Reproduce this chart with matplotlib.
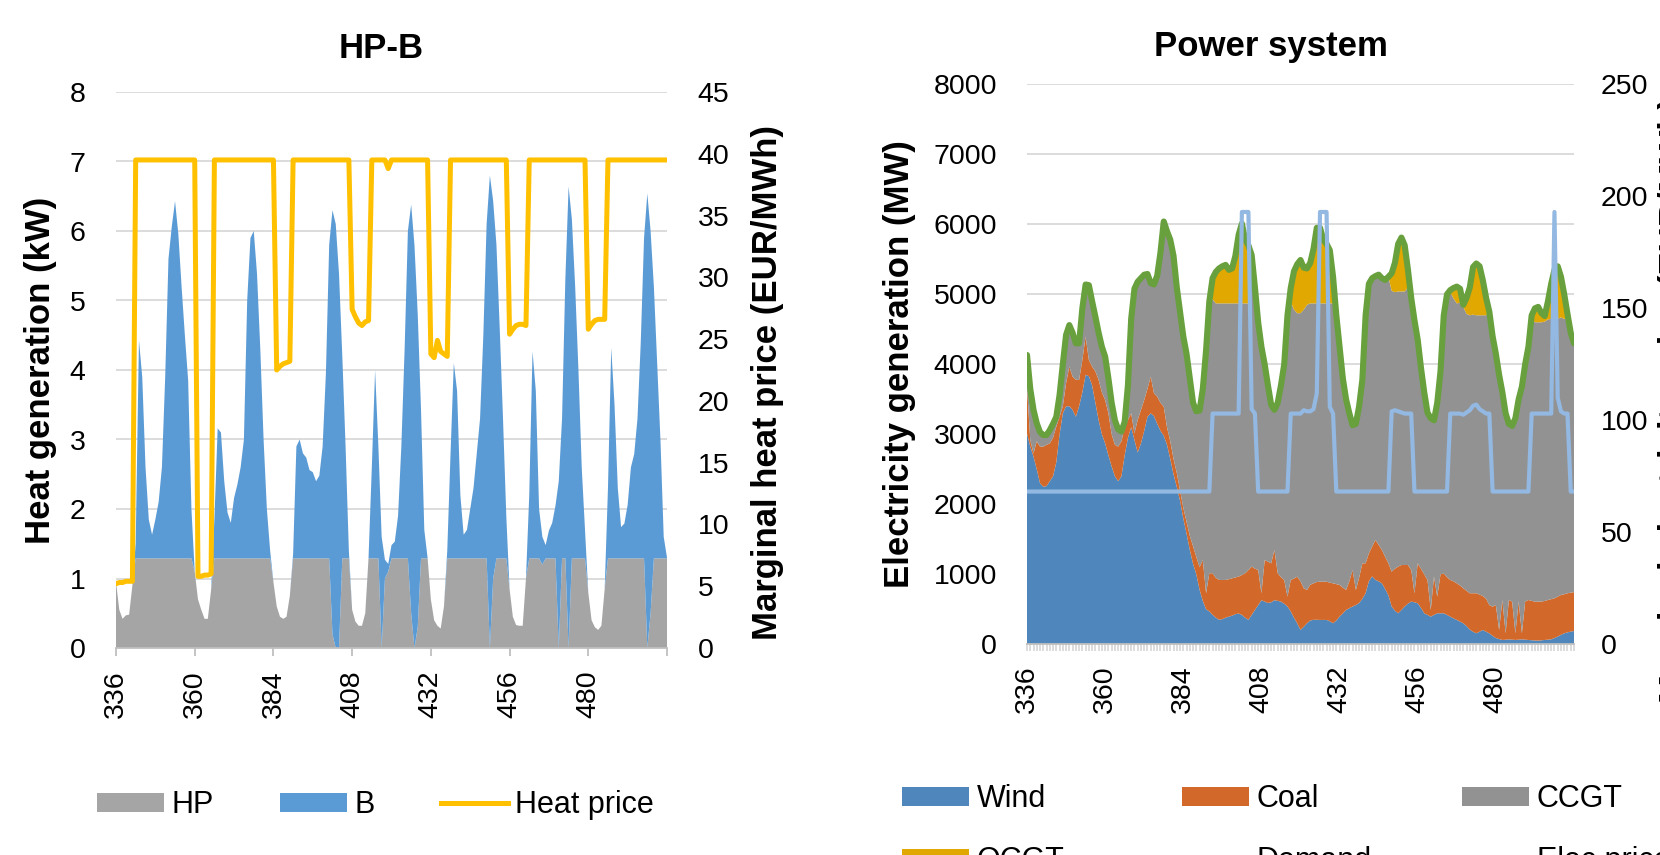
import matplotlib
matplotlib.use("Agg")
import matplotlib.pyplot as plt
from matplotlib.patches import Patch
from matplotlib.lines import Line2D

plt.rcParams['font.family'] = ['Liberation Sans', 'DejaVu Sans']

# ---------------- data ----------------
hours = list(range(336, 505))
xtick_vals = [336, 360, 384, 408, 432, 456, 480, 504]
xtick_labels = ['336', '360', '384', '408', '432', '456', '480', '']

# HP-B chart (kW)
hp = [
    0.95, 0.55, 0.42, 0.47, 0.48, 0.9, 1.29, 1.29, 1.29, 1.29, 1.29, 1.29, 1.29, 1.29, 1.29, 1.29, 1.29, 1.29, 1.29, 1.29, 1.29, 1.29, 1.29, 1.29,
    1.1, 0.7, 0.55, 0.42, 0.42, 0.84, 1.29, 1.29, 1.29, 1.29, 1.29, 1.29, 1.29, 1.29, 1.29, 1.29, 1.29, 1.29, 1.29, 1.29, 1.29, 1.29, 1.29, 1.29,
    0.95, 0.6, 0.45, 0.42, 0.45, 0.75, 1.29, 1.29, 1.29, 1.29, 1.29, 1.29, 1.29, 1.29, 1.29, 1.29, 1.29, 1.29, 0.2, 0.0, 0.0, 1.29, 1.29, 1.29,
    0.55, 0.38, 0.32, 0.32, 0.5, 1.29, 1.29, 1.29, 1.29, 0.0, 1.0, 1.1, 1.29, 1.29, 1.29, 1.29, 1.29, 1.29, 0.5, 0.0, 0.3, 1.29, 1.29, 1.29,
    0.7, 0.4, 0.32, 0.28, 0.6, 1.29, 1.29, 1.29, 1.29, 1.29, 1.29, 1.29, 1.29, 1.29, 1.29, 1.29, 1.29, 1.29, 0.0, 1.0, 1.29, 1.29, 1.29, 1.29,
    0.85, 0.45, 0.33, 0.32, 0.32, 1.0, 1.29, 1.29, 1.29, 1.29, 1.2, 1.29, 1.29, 1.29, 1.29, 0.0, 1.29, 1.29, 0.0, 1.29, 1.29, 1.29, 1.29, 1.29,
    0.8, 0.4, 0.3, 0.26, 0.32, 0.85, 1.29, 1.29, 1.29, 1.29, 1.29, 1.29, 1.29, 1.29, 1.29, 1.29, 1.29, 1.29, 0.0, 0.5, 1.29, 1.29, 1.29, 1.29,
    1.29,
]
boiler = [
    0, 0, 0, 0, 0, 0, 0.21, 3.14, 2.61, 1.31, 0.56, 0.34, 0.56, 0.81, 1.31, 2.61, 4.31, 4.77, 5.14, 4.67, 3.91, 3.21, 2.56, 0.71,
    0, 0, 0, 0, 0, 0, 0.56, 1.87, 1.81, 1.11, 0.66, 0.51, 0.87, 1.06, 1.31, 1.71, 3.71, 4.61, 4.71, 4.09, 3.01, 1.71, 0.71, 0.11,
    0, 0, 0, 0, 0, 0, 0.06, 1.61, 1.71, 1.51, 1.45, 1.27, 1.24, 1.11, 1.19, 1.61, 2.66, 4.51, 6.1, 6.1, 5.38, 2.91, 1.61, 0.11,
    0, 0, 0, 0, 0, 0.01, 1.31, 2.71, 1.61, 1.6, 0.27, 0.11, 0.19, 0.24, 0.61, 1.61, 3.01, 4.71, 5.88, 5.8, 4.5, 2.14, 0.41, 0.01,
    0, 0, 0, 0, 0, 0.11, 1.51, 2.81, 2.41, 0.91, 0.34, 0.41, 0.71, 1.01, 1.51, 2.01, 3.21, 4.81, 6.8, 5.43, 4.51, 3.31, 2.01, 0.61,
    0, 0, 0, 0, 0, 0, 0.91, 2.98, 2.41, 0.71, 0.4, 0.19, 0.4, 0.51, 0.76, 2.4, 2.01, 4.01, 6.64, 4.88, 3.91, 2.71, 1.31, 0.41,
    0, 0, 0, 0, 0, 0, 1.01, 3.03, 2.21, 1.01, 0.45, 0.5, 0.77, 1.31, 1.5, 2.01, 3.11, 4.61, 6.54, 5.5, 3.91, 2.81, 1.71, 0.31,
    0.01,
]
heat_price = (
    [5.2, 5.3, 5.3, 5.4, 5.4, 5.4] + [39.5] * 18
    + [39.5, 5.8, 5.8, 5.9, 5.9, 6.0] + [39.5] * 18
    + [39.5, 22.5, 22.8, 23.0, 23.1, 23.2] + [39.5] * 18
    + [27.4, 26.8, 26.3, 26.1, 26.4, 26.5] + [39.5] * 5 + [38.8] + [39.5] * 12
    + [23.8, 23.5, 24.9, 24.0, 23.8, 23.6] + [39.5] * 18
    + [25.4, 25.8, 26.1, 26.2, 26.2, 26.1] + [39.5] * 18
    + [25.8, 26.2, 26.5, 26.6, 26.6, 26.6] + [39.5] * 18
    + [39.5]
)

# Power system chart (MW)
wind = [
    3014, 2824, 2681, 2500, 2300, 2250, 2260, 2330, 2400, 2600, 3000, 3300, 3400, 3400, 3350, 3250, 3400, 3600, 3850, 3830, 3700, 3450, 3200, 3000,
    2870, 2700, 2540, 2400, 2330, 2400, 2700, 2950, 3100, 2920, 2740, 2870, 3050, 3250, 3300, 3260, 3150, 3050, 2980, 2850, 2650, 2430, 2250, 2050,
    1800, 1580, 1350, 1150, 1000, 780, 620, 500, 470, 420, 380, 350, 360, 380, 395, 410, 430, 440, 420, 380, 350, 420, 490, 560,
    630, 610, 590, 600, 630, 620, 610, 580, 540, 470, 380, 300, 205, 250, 300, 340, 350, 350, 348, 348, 348, 330, 300, 340,
    395, 440, 490, 515, 540, 560, 590, 650, 730, 900, 970, 920, 900, 870, 790, 700, 540, 480, 443, 490, 540, 580, 610, 600,
    586, 520, 443, 420, 395, 420, 443, 443, 443, 420, 395, 370, 348, 325, 300, 260, 210, 180, 157, 180, 205, 180, 157, 120,
    90, 75, 62, 65, 70, 66, 62, 66, 71, 66, 62, 58, 55, 52, 57, 62, 66, 71, 90, 110, 135, 157, 170, 181,
    190,
]
coal = [
    667, 95, 48, 400, 524, 574, 590, 541, 550, 510, 250, 100, 329, 567, 474, 530, 376, 462, 545, 232, 267, 450, 576, 600,
    620, 600, 460, 450, 494, 500, 400, 255, 200, 94, 465, 480, 440, 400, 524, 326, 388, 400, 415, 250, 250, 220, 200, 150,
    150, 170, 200, 250, 250, 320, 585, 229, 544, 594, 570, 569, 559, 539, 535, 533, 525, 527, 570, 634, 710, 690, 590, 502,
    99, 595, 590, 557, 718, 394, 350, 339, 141, 449, 560, 667, 695, 550, 476, 510, 521, 540, 547, 547, 547, 550, 571, 520,
    453, 370, 286, 385, 522, 216, 360, 507, 427, 400, 425, 570, 520, 478, 460, 457, 498, 600, 667, 643, 593, 553, 452, 129,
    571, 560, 557, 499, 95, 547, 238, 557, 571, 540, 524, 530, 523, 515, 500, 505, 519, 549, 572, 530, 485, 470, 403, 418,
    470, 130, 571, 92, 563, 544, 95, 544, 86, 544, 571, 562, 555, 558, 553, 558, 567, 574, 567, 570, 570, 558, 559, 557,
    555,
]
ccgt = [
    452, 731, 621, 257, 206, 166, 140, 189, 200, 140, 310, 600, 691, 593, 626, 520, 524, 738, 745, 1068, 933, 780, 674, 650,
    620, 500, 450, 350, 246, 140, 80, 495, 1350, 2066, 1975, 1880, 1790, 1640, 1336, 1554, 1732, 2150, 2645, 2800, 2880, 2900, 2650, 2550,
    2450, 2400, 2250, 2050, 2080, 2240, 2445, 3471, 3886, 3916, 3920, 3951, 3951, 3951, 3940, 3927, 3915, 3903, 3880, 3856, 3810, 4150, 4020, 3538,
    3521, 2795, 2520, 2263, 2002, 2436, 2740, 3081, 4019, 3971, 3840, 3763, 3830, 3980, 4074, 4020, 3999, 3980, 3975, 3975, 3975, 3990, 3999, 3840,
    3402, 2990, 2724, 2400, 2068, 2374, 2450, 2623, 3543, 3850, 3835, 3770, 3860, 3882, 3955, 4093, 4012, 3950, 3930, 3907, 3907, 3967, 3888, 3901,
    3193, 2870, 2600, 2391, 2740, 2233, 2769, 2900, 3686, 4040, 4111, 4040, 3999, 4040, 4020, 3955, 3971, 3981, 3971, 3990, 4010, 4050, 4190, 3862,
    3590, 3645, 2967, 3143, 2517, 2510, 3073, 2890, 3523, 3390, 3617, 4020, 3990, 3990, 3990, 3990, 4007, 4005, 3993, 3970, 3965, 3935, 3911, 3712,
    3555,
]
ocgt = (
    [0] * 24
    + [0] * 24
    + [0] * 9 + [300, 450, 500, 530, 550, 480, 500, 680, 980, 1140, 910, 830, 300] + [0] * 2
    + [0] * 9 + [200, 550, 700, 760, 600, 520, 580, 780, 1080, 1080, 910, 850, 760, 380] + [0]
    + [0] * 16 + [250, 420, 680, 770, 660, 250] + [0] * 2
    + [0] * 10 + [30, 150, 240, 200, 30, 230, 400, 680, 740, 700, 500, 250] + [0] * 2
    + [0] * 11 + [60, 200, 220, 130, 80, 260, 500, 700, 750, 580, 350, 80] + [0]
    + [0]
)
demand = [
    4133, 3650, 3350, 3157, 3030, 2990, 2990, 3060, 3150, 3250, 3560, 4000, 4420, 4560, 4450, 4300, 4300, 4800, 5140, 5130, 4900, 4680, 4450, 4250,
    4110, 3800, 3450, 3200, 3070, 3040, 3180, 3700, 4650, 5080, 5180, 5230, 5280, 5290, 5160, 5140, 5270, 5600, 6040, 5900, 5780, 5550, 5100, 4750,
    4400, 4150, 3800, 3450, 3330, 3340, 3650, 4200, 4900, 5230, 5320, 5370, 5400, 5420, 5350, 5370, 5550, 5850, 6010, 5780, 5700, 5560, 5100, 4600,
    4250, 4000, 3700, 3420, 3350, 3450, 3700, 4000, 4700, 5090, 5330, 5430, 5490, 5380, 5370, 5450, 5650, 5950, 5950, 5780, 5720, 5630, 5250, 4700,
    4250, 3800, 3500, 3300, 3130, 3150, 3400, 3780, 4700, 5150, 5230, 5260, 5280, 5230, 5205, 5250, 5300, 5450, 5720, 5810, 5700, 5350, 4950, 4630,
    4350, 3950, 3600, 3310, 3230, 3200, 3450, 3900, 4700, 5000, 5060, 5090, 5110, 5080, 4850, 4950, 5100, 5390, 5440, 5400, 5200, 4950, 4750, 4400,
    4150, 3850, 3600, 3300, 3150, 3120, 3230, 3500, 3680, 4000, 4250, 4700, 4800, 4820, 4730, 4690, 4900, 5150, 5350, 5400, 5250, 5000, 4720, 4450,
    4300,
]
elec_price = (
    [68.2] * 24
    + [68.2] * 24
    + [68.2] * 9 + [103] * 9 + [193, 193, 193, 105, 103, 68.2]
    + [68.2] * 9 + [103, 103, 103, 103, 104.5, 104, 104, 105, 112, 193, 193, 193, 106, 103] + [68.2]
    + [68.2] * 16 + [104, 104.5, 104, 103.5, 103, 103, 103] + [68.2]
    + [68.2] * 10 + [103, 103, 103, 103, 102.5, 103.5, 104.5, 106.5, 107, 105, 104, 103, 103] + [68.2]
    + [68.2] * 11 + [103] * 7 + [193, 110, 104, 103, 103, 68.2]
    + [68.2]
)

# ---------------- styling ----------------
C_HP = '#A5A5A5'
C_B = '#5B9BD5'
C_HEAT = '#FFC000'
C_WIND = '#4F87BC'
C_COAL = '#D2692A'
C_CCGT = '#929292'
C_OCGT = '#E0A800'
C_DEM = '#68A03D'
C_EPR = '#93B8E2'
GRID = '#D9D9D9'
AXL = '#BFBFBF'
TICK_FS = 20.5
LAB_FS = 25
LEG_FS = 22

W, H = 1660, 855
fig = plt.figure(figsize=(16.6, 8.55), dpi=100)


def px_axes(x0, x1, ytop, ybot):
    return [x0 / W, 1 - ybot / H, (x1 - x0) / W, (ybot - ytop) / H]


def style_axes(ax, axr, ypad_l, ypad_r):
    for s in ['left', 'right', 'top']:
        ax.spines[s].set_visible(False)
        axr.spines[s].set_visible(False)
    axr.spines['bottom'].set_visible(False)
    ax.spines['bottom'].set_color(AXL)
    ax.spines['bottom'].set_linewidth(1.3)
    ax.set_axisbelow(True)
    ax.grid(axis='y', color=GRID, linewidth=1.3)
    ax.grid(axis='x', visible=False)
    ax.tick_params(axis='y', length=0, pad=ypad_l, labelsize=TICK_FS)
    axr.tick_params(axis='y', length=0, pad=ypad_r, labelsize=TICK_FS)
    ax.tick_params(axis='x', which='both', direction='out', length=6, width=1.3,
                   color=AXL, pad=10, labelsize=TICK_FS, labelrotation=90)


# ---------------- left chart: HP-B ----------------
ax1 = fig.add_axes(px_axes(116, 667, 92, 648))
ax1r = ax1.twinx()
ax1.stackplot(hours, hp, boiler, colors=[C_HP, C_B], linewidth=0)
ax1r.plot(hours, heat_price, color=C_HEAT, lw=3.6,
          solid_joinstyle='round', solid_capstyle='round')
ax1.set_xlim(336, 504)
ax1.set_ylim(0, 8)
ax1r.set_ylim(0, 45)
ax1.set_yticks(range(0, 9))
ax1r.set_yticks(range(0, 46, 5))
ax1.set_xticks(xtick_vals, labels=xtick_labels)
style_axes(ax1, ax1r, 22, 22)
ax1.set_ylabel('Heat generation (kW)', fontsize=LAB_FS, fontweight='bold', va='center')
ax1.yaxis.set_label_coords((40 - 116) / 551, 0.5)
ax1r.set_ylabel('Marginal heat price (EUR/MWh)', fontsize=LAB_FS, fontweight='bold',
                va='center', rotation=90)
ax1r.yaxis.set_label_coords((767 - 116) / 551, (648 - 382) / 556)
ax1.set_title('HP-B', fontsize=LAB_FS, fontweight='bold', pad=0,
              y=(648 - 48) / 556, va='center')
ax1.title.set_x((381 - 116) / 551)

leg1 = fig.legend(
    handles=[Patch(facecolor=C_HP), Patch(facecolor=C_B),
             Line2D([], [], color=C_HEAT, lw=3.6)],
    labels=['HP', 'B', 'Heat price'],
    loc='center left', bbox_to_anchor=(97 / W, 1 - 805 / H), ncol=3,
    frameon=False, fontsize=LEG_FS, handlelength=2.19, handleheight=0.56,
    handletextpad=0.26, columnspacing=2.15, borderpad=0, borderaxespad=0)

# ---------------- right chart: Power system ----------------
ax2 = fig.add_axes(px_axes(1027, 1574, 84.3, 644.3))
ax2r = ax2.twinx()
ax2.stackplot(hours, wind, coal, ccgt, ocgt,
              colors=[C_WIND, C_COAL, C_CCGT, C_OCGT], linewidth=0)
ax2.plot(hours, demand, color=C_DEM, lw=4.4,
         solid_joinstyle='round', solid_capstyle='round')
ax2r.plot(hours, elec_price, color=C_EPR, lw=3.0,
          solid_joinstyle='round', solid_capstyle='round')
ax2.set_xlim(336, 504)
ax2.set_ylim(0, 8000)
ax2r.set_ylim(0, 250)
ax2.set_yticks(range(0, 8001, 1000))
ax2r.set_yticks(range(0, 251, 50))
ax2.set_xticks(xtick_vals, labels=xtick_labels)
ax2.set_xticks(hours, minor=True)
style_axes(ax2, ax2r, 21.5, 19.5)
ax2.tick_params(axis='x', which='both', length=5, color=GRID)
ax2.set_ylabel('Electricity generation (MW)', fontsize=LAB_FS, fontweight='bold', va='center')
ax2.yaxis.set_label_coords((899 - 1027) / 547, 0.5)
ax2r.set_ylabel('Marginal electricity price (EUR/MWh)', fontsize=LAB_FS, fontweight='bold',
                va='center', rotation=90)
ax2r.yaxis.set_label_coords((1674.5 - 1027) / 547, (644.3 - 400) / 560)
ax2.set_title('Power system', fontsize=LAB_FS, fontweight='bold', pad=0,
              y=(644.3 - 46) / 560, va='center')
ax2.title.set_x((1271 - 1027) / 547)

col_entries = [
    (902, [Patch(facecolor=C_WIND), Patch(facecolor=C_OCGT)], ['Wind', 'OCGT']),
    (1182, [Patch(facecolor=C_COAL), Line2D([], [], color=C_DEM, lw=4.4)], ['Coal', 'Demand']),
    (1462, [Patch(facecolor=C_CCGT), Line2D([], [], color=C_EPR, lw=3.0)], ['CCGT', 'Elec price']),
]
for x0, hs, ls in col_entries:
    fig.legend(handles=hs, labels=ls, loc='upper left',
               bbox_to_anchor=(x0 / W, 1 - 784 / H), ncol=1, frameon=False,
               fontsize=LEG_FS, handlelength=2.19, handleheight=0.56,
               handletextpad=0.26, labelspacing=1.05, borderpad=0, borderaxespad=0)

fig.savefig('out.png', dpi=100)
